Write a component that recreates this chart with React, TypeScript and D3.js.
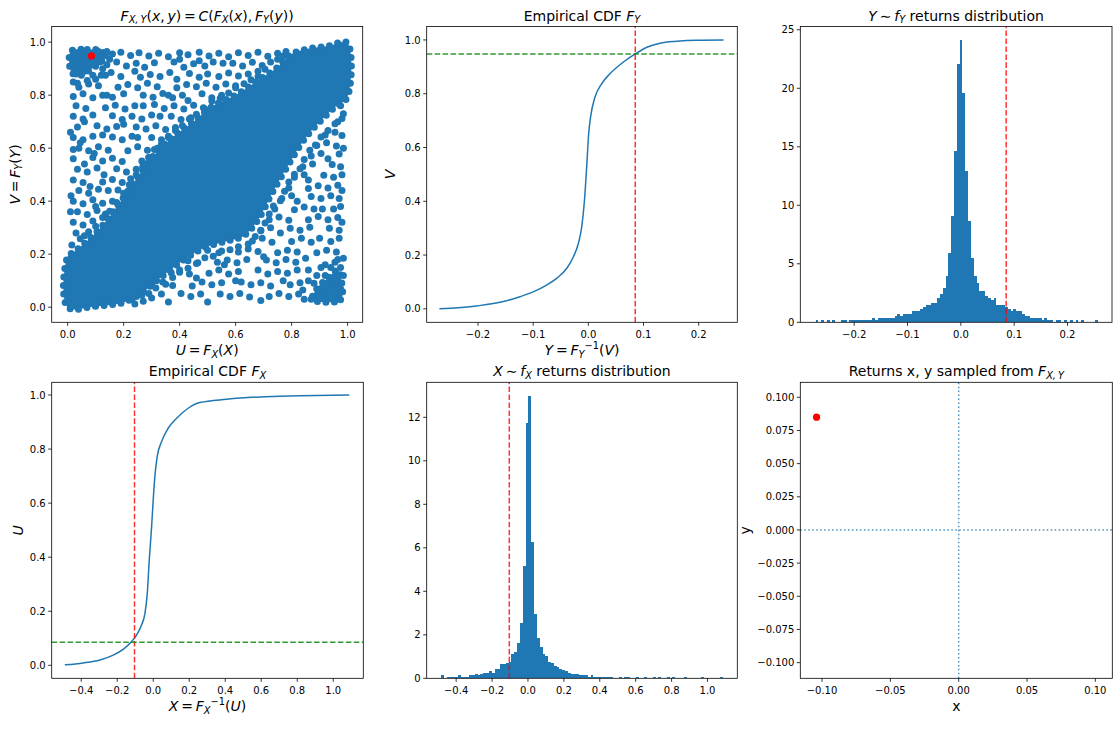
import * as d3 from "d3";
import type { ReactNode } from "react";

const FONT = "DejaVu Sans";
const BLUE = "#1f77b4";
const TS = "\u2009"; // thin space used by math text

// picked sample (red marker / dashed guides)
const PICK_U = 0.085;
const PICK_V = 0.948;
const PICK_X = -0.104;
const PICK_Y = 0.085;

// ---- empirical CDF of Y
const Y_CDF_Y = [-0.27, -0.202, -0.154, -0.124, -0.1, -0.075, -0.057, -0.039, -0.027, -0.018, -0.012, -0.007, -0.003, 0.0006, 0.004, 0.012, 0.024, 0.039, 0.063, 0.085, 0.106, 0.13, 0.16, 0.196, 0.245];
const Y_CDF_V = [0.0, 0.011, 0.027, 0.045, 0.063, 0.089, 0.114, 0.151, 0.194, 0.244, 0.305, 0.404, 0.528, 0.651, 0.713, 0.787, 0.837, 0.874, 0.917, 0.948, 0.973, 0.988, 0.995, 0.999, 1.0];

// ---- empirical CDF of X
const X_CDF_X = [-0.491, -0.389, -0.296, -0.222, -0.167, -0.12, -0.093, -0.065, -0.046, -0.033, -0.022, -0.009, 0.0, 0.009, 0.022, 0.046, 0.083, 0.13, 0.194, 0.259, 0.407, 0.593, 0.815, 1.089];
const X_CDF_U = [0.002, 0.009, 0.02, 0.038, 0.059, 0.088, 0.112, 0.149, 0.192, 0.266, 0.39, 0.513, 0.612, 0.698, 0.772, 0.827, 0.877, 0.914, 0.951, 0.972, 0.984, 0.993, 0.997, 1.0];

// ---- histogram of Y (density, 100 bins)
const Y_HIST_RANGE: [number, number] = [-0.2725, 0.2575];
const Y_HIST = [
  0.19, 0, 0.19, 0, 0.19, 0, 0.19, 0, 0, 0.19,
  0.19, 0, 0.19, 0.19, 0.19, 0.19, 0.19, 0.19, 0.19, 0.19,
  0.38, 0.19, 0.38, 0.38, 0.38, 0.38, 0.38, 0.38, 0.56, 0.75,
  0.56, 0.75, 0.75, 0.75, 0.94, 0.94, 0.94, 1.13, 1.31, 1.5,
  1.5, 1.69, 1.69, 2.07, 2.45, 2.96, 3.95, 5.9, 9.05, 14.6,
  22.1, 24.1, 19.6, 12.9, 8.66, 5.5, 3.95, 3.4, 2.7, 2.65,
  2.25, 2.07, 1.88, 2.07, 1.5, 1.5, 1.5, 1.31, 1.13, 0.94,
  1.13, 0.94, 0.94, 0.75, 0.56, 0.56, 0.38, 0.38, 0.38, 0.38,
  0.19, 0.38, 0.19, 0.19, 0, 0.19, 0.19, 0, 0.19, 0,
  0.19, 0, 0.19, 0, 0.19, 0, 0, 0, 0, 0.19,
];

// ---- histogram of X (density, 100 bins)
const X_HIST_RANGE: [number, number] = [-0.485, 1.088];
const X_HIST = [
  0.13, 0, 0.06, 0.06, 0.06, 0.06, 0.13, 0.06, 0.06, 0.06,
  0.13, 0.13, 0.19, 0.13, 0.19, 0.25, 0.25, 0.32, 0.25, 0.44,
  0.44, 0.64, 0.64, 0.7, 0.76, 1.12, 1.23, 1.62, 2.56, 5.16,
  11.75, 12.98, 6.28, 2.96, 1.87, 1.46, 1.12, 1.04, 0.76, 0.7,
  0.57, 0.51, 0.44, 0.38, 0.32, 0.25, 0.19, 0.19, 0.19, 0.13,
  0.13, 0.13, 0.06, 0.13, 0.06, 0.06, 0.06, 0.06, 0.06, 0.06,
  0.06, 0, 0, 0.06, 0, 0.06, 0.06, 0, 0, 0.06,
  0, 0, 0.06, 0, 0, 0.06, 0, 0.06, 0, 0,
  0.06, 0, 0.06, 0, 0, 0, 0.06, 0, 0, 0,
  0, 0, 0.06, 0, 0, 0, 0, 0, 0, 0.06,
];

// ---- copula sample (U, V): solid areas as outlines, sparse areas as dots
const DENSE_BAND: [number, number][] = [
  [0.0, 0.0], [0.1, 0.004], [0.2, 0.018], [0.26, 0.05], [0.33, 0.11], [0.41, 0.175], [0.49, 0.225],
  [0.57, 0.25], [0.63, 0.27], [0.68, 0.33], [0.73, 0.43], [0.79, 0.54], [0.85, 0.64], [0.91, 0.71],
  [0.96, 0.76], [0.998, 0.79], [0.998, 0.998], [0.93, 0.985], [0.86, 0.975], [0.8, 0.955], [0.75, 0.905],
  [0.68, 0.855], [0.6, 0.8], [0.52, 0.76], [0.45, 0.7], [0.38, 0.645], [0.31, 0.575], [0.25, 0.49],
  [0.19, 0.4], [0.13, 0.315], [0.07, 0.25], [0.025, 0.21], [0.0, 0.19],
];
const TOP_LEFT_BLOB: [number, number][] = [
  [0.012, 0.965], [0.07, 0.972], [0.125, 0.965], [0.12, 0.925], [0.085, 0.9], [0.05, 0.875], [0.015, 0.885],
];
const BOTTOM_RIGHT_BLOB: [number, number][] = [
  [0.875, 0.03], [0.975, 0.028], [0.978, 0.1], [0.965, 0.14], [0.93, 0.11], [0.89, 0.07],
];
const UPPER_DOTS: [number, number][] = [
  [0.16, 0.955], [0.19, 0.962], [0.225, 0.95], [0.255, 0.96], [0.29, 0.948], [0.325, 0.958], [0.36, 0.945], [0.4, 0.96], [0.43, 0.952], [0.47, 0.962],
  [0.505, 0.948], [0.54, 0.958], [0.575, 0.945], [0.61, 0.96], [0.645, 0.95], [0.68, 0.962], [0.715, 0.947], [0.75, 0.958], [0.78, 0.965],
  [0.14, 0.915], [0.175, 0.925], [0.21, 0.91], [0.245, 0.92], [0.275, 0.905], [0.31, 0.922], [0.38, 0.925], [0.415, 0.905], [0.45, 0.918],
  [0.49, 0.91], [0.52, 0.925], [0.59, 0.92], [0.625, 0.91], [0.66, 0.924], [0.695, 0.912],
  [0.12, 0.875], [0.155, 0.885], [0.19, 0.87], [0.26, 0.868], [0.295, 0.878], [0.33, 0.87], [0.365, 0.885], [0.435, 0.882], [0.47, 0.868],
  [0.5, 0.88], [0.54, 0.87], [0.575, 0.884], [0.61, 0.872], [0.645, 0.88], [0.68, 0.87],
  [0.04, 0.83], [0.075, 0.842], [0.11, 0.835], [0.18, 0.83], [0.215, 0.84], [0.25, 0.828], [0.285, 0.845], [0.32, 0.832], [0.39, 0.828],
  [0.425, 0.84], [0.46, 0.832], [0.495, 0.845], [0.53, 0.83], [0.565, 0.842], [0.6, 0.835],
  [0.02, 0.795], [0.055, 0.805], [0.09, 0.79], [0.125, 0.8], [0.16, 0.792], [0.2, 0.805], [0.27, 0.8], [0.305, 0.792], [0.34, 0.806],
  [0.375, 0.79], [0.41, 0.8], [0.48, 0.805], [0.515, 0.79], [0.55, 0.8],
  [0.03, 0.76], [0.065, 0.75], [0.135, 0.752], [0.17, 0.762], [0.205, 0.748], [0.24, 0.76], [0.31, 0.765], [0.345, 0.75], [0.38, 0.76],
  [0.415, 0.748], [0.45, 0.762], [0.485, 0.752],
  [0.02, 0.72], [0.055, 0.71], [0.09, 0.725], [0.16, 0.722], [0.195, 0.708], [0.23, 0.72], [0.265, 0.71], [0.3, 0.725], [0.37, 0.72],
  [0.405, 0.708], [0.44, 0.715],
  [0.035, 0.68], [0.105, 0.685], [0.14, 0.672], [0.175, 0.682], [0.245, 0.68], [0.28, 0.672], [0.315, 0.685], [0.35, 0.67], [0.385, 0.678],
  [0.02, 0.64], [0.055, 0.632], [0.09, 0.645], [0.16, 0.642], [0.195, 0.632], [0.23, 0.645], [0.3, 0.64], [0.335, 0.632], [0.36, 0.645],
  [0.04, 0.6], [0.075, 0.59], [0.11, 0.605], [0.145, 0.592], [0.215, 0.59], [0.25, 0.605], [0.285, 0.592], [0.32, 0.6],
  [0.02, 0.56], [0.09, 0.565], [0.125, 0.552], [0.16, 0.562], [0.195, 0.55], [0.265, 0.552], [0.29, 0.565],
  [0.035, 0.52], [0.07, 0.51], [0.105, 0.525], [0.175, 0.522], [0.21, 0.51], [0.245, 0.52],
  [0.02, 0.48], [0.055, 0.47], [0.125, 0.472], [0.16, 0.482], [0.195, 0.47], [0.225, 0.485],
  [0.04, 0.44], [0.075, 0.43], [0.11, 0.445], [0.18, 0.442], [0.205, 0.43],
  [0.02, 0.4], [0.055, 0.39], [0.09, 0.405], [0.125, 0.392], [0.16, 0.4],
  [0.035, 0.36], [0.07, 0.35], [0.105, 0.365], [0.135, 0.352],
  [0.02, 0.32], [0.055, 0.31], [0.09, 0.325], [0.03, 0.28], [0.06, 0.27],
];
// dots hugging the upper edge of the dense band
const UPPER_EDGE_DOTS: [number, number][] = [
  [0.015, 0.235], [0.045, 0.258], [0.075, 0.285], [0.1, 0.305], [0.125, 0.338], [0.15, 0.362], [0.175, 0.395], [0.2, 0.43], [0.22, 0.462],
  [0.245, 0.5], [0.268, 0.53], [0.29, 0.565], [0.31, 0.595], [0.335, 0.615], [0.36, 0.64], [0.385, 0.667], [0.41, 0.685], [0.435, 0.71],
  [0.46, 0.728], [0.49, 0.748], [0.515, 0.778], [0.545, 0.788], [0.575, 0.808], [0.6, 0.828], [0.63, 0.843], [0.655, 0.858], [0.68, 0.89],
  [0.705, 0.898], [0.725, 0.925], [0.75, 0.935], [0.77, 0.948],
  [0.02, 0.595], [0.01, 0.66], [0.012, 0.42], [0.01, 0.36], [0.045, 0.62], [0.06, 0.54], [0.08, 0.455], [0.1, 0.38], [0.145, 0.44],
  [0.13, 0.5], [0.095, 0.58], [0.125, 0.65], [0.06, 0.7], [0.2, 0.69], [0.25, 0.64], [0.27, 0.76], [0.33, 0.72], [0.36, 0.8],
  [0.43, 0.78], [0.39, 0.86], [0.47, 0.93], [0.555, 0.92], [0.4, 0.935], [0.24, 0.89], [0.11, 0.95], [0.14, 0.8],
];
const TOP_LEFT_DOTS: [number, number][] = [
  [0.02, 0.96], [0.05, 0.965], [0.08, 0.955], [0.11, 0.965], [0.135, 0.95], [0.02, 0.92], [0.05, 0.93], [0.085, 0.915], [0.115, 0.925],
  [0.03, 0.88], [0.06, 0.89], [0.09, 0.875], [0.02, 0.85], [0.14, 0.965], [0.125, 0.9], [0.1, 0.86], [0.07, 0.855], [0.15, 0.935],
  [0.035, 0.845], [0.135, 0.875],
];
const LOWER_DOTS: [number, number][] = [
  [0.23, 0.03], [0.265, 0.045], [0.3, 0.035], [0.335, 0.05], [0.405, 0.052], [0.44, 0.04], [0.475, 0.05], [0.545, 0.05], [0.58, 0.04],
  [0.615, 0.052], [0.65, 0.038], [0.72, 0.04], [0.755, 0.052], [0.79, 0.04], [0.825, 0.05],
  [0.3, 0.085], [0.34, 0.095], [0.375, 0.082], [0.445, 0.08], [0.48, 0.095], [0.515, 0.085], [0.55, 0.092], [0.62, 0.095], [0.655, 0.085],
  [0.69, 0.092], [0.725, 0.08], [0.795, 0.085], [0.83, 0.092],
  [0.37, 0.13], [0.4, 0.14], [0.435, 0.125], [0.505, 0.128], [0.54, 0.14], [0.575, 0.125], [0.61, 0.135], [0.68, 0.14], [0.715, 0.125],
  [0.75, 0.135], [0.785, 0.128], [0.82, 0.14],
  [0.43, 0.175], [0.465, 0.168], [0.535, 0.17], [0.57, 0.178], [0.605, 0.168], [0.64, 0.18], [0.71, 0.178], [0.745, 0.168], [0.78, 0.18],
  [0.815, 0.17], [0.85, 0.185],
  [0.5, 0.215], [0.54, 0.205], [0.61, 0.208], [0.645, 0.22], [0.68, 0.21], [0.75, 0.205], [0.785, 0.215], [0.82, 0.208], [0.89, 0.205],
  [0.925, 0.215], [0.96, 0.208],
  [0.66, 0.25], [0.695, 0.26], [0.73, 0.245], [0.8, 0.248], [0.835, 0.26], [0.87, 0.245], [0.94, 0.248], [0.97, 0.26],
  [0.69, 0.29], [0.725, 0.3], [0.795, 0.298], [0.83, 0.29], [0.865, 0.302], [0.935, 0.298], [0.97, 0.29],
  [0.72, 0.33], [0.755, 0.34], [0.79, 0.328], [0.86, 0.33], [0.895, 0.342], [0.93, 0.33], [0.965, 0.338],
  [0.74, 0.37], [0.81, 0.368], [0.845, 0.378], [0.88, 0.37], [0.95, 0.37], [0.975, 0.38],
  [0.765, 0.41], [0.8, 0.42], [0.87, 0.418], [0.905, 0.41], [0.94, 0.42], [0.97, 0.41],
  [0.79, 0.45], [0.86, 0.448], [0.895, 0.458], [0.93, 0.45], [0.965, 0.46],
  [0.81, 0.49], [0.845, 0.5], [0.915, 0.498], [0.95, 0.49], [0.98, 0.5],
  [0.84, 0.53], [0.875, 0.54], [0.945, 0.538], [0.975, 0.53],
  [0.87, 0.57], [0.905, 0.58], [0.97, 0.578], [0.89, 0.61], [0.925, 0.62], [0.96, 0.608],
  [0.92, 0.65], [0.955, 0.66], [0.98, 0.648], [0.965, 0.7], [0.985, 0.73], [0.975, 0.76],
];
// dots hugging the lower edge of the dense band
const LOWER_EDGE_DOTS: [number, number][] = [
  [0.24, 0.012], [0.27, 0.022], [0.29, 0.052], [0.315, 0.072], [0.35, 0.087], [0.375, 0.112], [0.4, 0.132], [0.43, 0.147], [0.46, 0.165],
  [0.49, 0.187], [0.52, 0.192], [0.55, 0.212], [0.58, 0.217], [0.61, 0.228], [0.645, 0.238], [0.67, 0.267], [0.69, 0.288], [0.705, 0.318],
  [0.72, 0.352], [0.735, 0.382], [0.76, 0.402], [0.775, 0.437], [0.79, 0.472], [0.81, 0.502], [0.83, 0.522], [0.845, 0.557], [0.865, 0.592],
  [0.885, 0.612], [0.905, 0.642], [0.93, 0.667], [0.955, 0.692], [0.98, 0.712],
  [0.36, 0.02], [0.5, 0.02], [0.69, 0.025], [0.46, 0.11], [0.6, 0.1], [0.77, 0.1], [0.56, 0.16], [0.7, 0.19], [0.86, 0.14],
  [0.76, 0.28], [0.9, 0.26], [0.82, 0.4], [0.91, 0.37], [0.86, 0.48], [0.93, 0.56], [0.98, 0.44], [0.98, 0.32], [0.985, 0.6],
  [0.94, 0.15], [0.965, 0.18], [0.92, 0.12], [0.88, 0.09],
];
const BOTTOM_RIGHT_DOTS: [number, number][] = [
  [0.87, 0.03], [0.9, 0.045], [0.975, 0.07], [0.95, 0.1], [0.975, 0.15], [0.955, 0.17], [0.92, 0.16], [0.89, 0.12], [0.86, 0.1],
  [0.985, 0.12], [0.95, 0.03], [0.915, 0.035], [0.84, 0.065], [0.985, 0.185], [0.905, 0.15], [0.845, 0.03],
];

// ---- tick values
const UNIT_TICKS = [0, 0.2, 0.4, 0.6, 0.8, 1.0];
const Y_RET_TICKS = [-0.2, -0.1, 0, 0.1, 0.2];
const Y_DENS_TICKS = [0, 5, 10, 15, 20, 25];
const X_RET_TICKS = [-0.4, -0.2, 0, 0.2, 0.4, 0.6, 0.8, 1.0];
const X_DENS_TICKS = [0, 2, 4, 6, 8, 10, 12];
const XY_X_TICKS = [-0.1, -0.05, 0, 0.05, 0.1];
const XY_Y_TICKS = [-0.1, -0.075, -0.05, -0.025, 0, 0.025, 0.05, 0.075, 0.1];

// segment kinds: r roman, i italic, bi subscript italic, pr superscript roman
type Seg = [string, "r" | "i" | "bi" | "pr"];

const MathText = ({ x, y, size, segs, rotate = false }: { x: number; y: number; size: number; segs: Seg[]; rotate?: boolean }) => {
  let shift = 0;
  const spans = segs.map(([t, kind], k) => {
    const target = kind === "bi" ? size * 0.2 : kind === "pr" ? -size * 0.42 : 0;
    const dy = target - shift;
    shift = target;
    const small = kind === "bi" || kind === "pr";
    return (
      <tspan key={k} dy={dy} fontStyle={kind === "i" || kind === "bi" ? "italic" : "normal"} fontSize={small ? size * 0.7 : size}>
        {t}
      </tspan>
    );
  });
  return (
    <text
      x={x}
      y={y}
      fontSize={size}
      fontFamily={FONT}
      textAnchor="middle"
      dominantBaseline={rotate ? "central" : undefined}
      transform={rotate ? `rotate(-90, ${x}, ${y})` : undefined}
      style={{ whiteSpace: "pre" }}
      fill="#000"
    >
      {spans}
    </text>
  );
};

type AxesProps = {
  id: string;
  left: number; right: number; top: number; bottom: number;
  xDomain: [number, number]; yDomain: [number, number];
  xTicks: number[]; yTicks: number[];
  xFmt: (v: number) => string; yFmt: (v: number) => string;
  title: Seg[]; xLabel?: Seg[]; yLabel?: Seg[]; yLabelGap?: number;
  children: (x: d3.ScaleLinear<number, number>, y: d3.ScaleLinear<number, number>) => ReactNode;
};

const Axes = (p: AxesProps) => {
  const x = d3.scaleLinear().domain(p.xDomain).range([p.left, p.right]);
  const y = d3.scaleLinear().domain(p.yDomain).range([p.bottom, p.top]);
  const cx = (p.left + p.right) / 2;
  const cy = (p.top + p.bottom) / 2;
  return (
    <g>
      <clipPath id={p.id}>
        <rect x={p.left} y={p.top} width={p.right - p.left} height={p.bottom - p.top} />
      </clipPath>
      <g clipPath={`url(#${p.id})`}>{p.children(x, y)}</g>
      <rect x={p.left} y={p.top} width={p.right - p.left} height={p.bottom - p.top} fill="none" stroke="#000" strokeWidth={0.8} />
      {p.xTicks.map((t) => (
        <g key={"x" + t}>
          <line x1={x(t)} x2={x(t)} y1={p.bottom} y2={p.bottom + 3.5} stroke="#000" strokeWidth={0.8} />
          <text x={x(t)} y={p.bottom + 15.5} fontSize={10} fontFamily={FONT} textAnchor="middle">{p.xFmt(t)}</text>
        </g>
      ))}
      {p.yTicks.map((t) => (
        <g key={"y" + t}>
          <line x1={p.left - 3.5} x2={p.left} y1={y(t)} y2={y(t)} stroke="#000" strokeWidth={0.8} />
          <text x={p.left - 6} y={y(t) + 3.6} fontSize={10} fontFamily={FONT} textAnchor="end">{p.yFmt(t)}</text>
        </g>
      ))}
      <MathText x={cx} y={p.top - 6} size={14} segs={p.title} />
      {p.xLabel && <MathText x={cx} y={p.bottom + 33} size={14} segs={p.xLabel} />}
      {p.yLabel && <MathText x={p.left - (p.yLabelGap ?? 36)} y={cy} size={14} segs={p.yLabel} rotate />}
    </g>
  );
};

const f1 = d3.format(".1f");
const f2 = d3.format(".2f");
const f3 = d3.format(".3f");
const f0 = d3.format("d");

const COLS = [{ l: 51.7, r: 362.7 }, { l: 426.7, r: 737.3 }, { l: 800.3, r: 1112 }];
const ROWS = [{ t: 26.5, b: 322.3 }, { t: 382.3, b: 678.3 }];

const Hist = ({ x, y, range, values }: { x: any; y: any; range: [number, number]; values: number[] }) => {
  const step = (range[1] - range[0]) / values.length;
  return (
    <g shapeRendering="crispEdges">
      {values.map((v, i) => {
        if (!v) return null;
        const x0 = range[0] + i * step;
        return <rect key={i} x={x(x0)} width={x(x0 + step) - x(x0)} y={y(v)} height={y(0) - y(v)} fill={BLUE} />;
      })}
    </g>
  );
};

const VLine = ({ x, y, v, color, dash }: any) => (
  <line x1={x(v)} x2={x(v)} y1={y.range()[0]} y2={y.range()[1]} stroke={color} strokeOpacity={0.8} strokeWidth={1.5} strokeDasharray={dash} />
);
const HLine = ({ x, y, v, color, dash }: any) => (
  <line x1={x.range()[0]} x2={x.range()[1]} y1={y(v)} y2={y(v)} stroke={color} strokeOpacity={0.8} strokeWidth={1.5} strokeDasharray={dash} />
);

const DASH = "5.55,2.4";
const DOT = "1.5,2.475";
const DOT_R = 3.5;

export default function App() {
  const dots = [...UPPER_DOTS, ...UPPER_EDGE_DOTS, ...TOP_LEFT_DOTS, ...LOWER_DOTS, ...LOWER_EDGE_DOTS, ...BOTTOM_RIGHT_DOTS];
  const eq = `${TS}=${TS}`;
  return (
    <svg width={1118} height={729} style={{ position: "absolute", left: 0, top: 0, background: "#fff" }}>
      {/* copula scatter */}
      <Axes
        id="c0" left={COLS[0].l} right={COLS[0].r} top={ROWS[0].t} bottom={ROWS[0].b}
        xDomain={[-0.057, 1.054]} yDomain={[-0.057, 1.059]}
        xTicks={UNIT_TICKS} yTicks={UNIT_TICKS} xFmt={f1} yFmt={f1}
        title={[["F", "i"], [`X,${TS}Y`, "bi"], ["(", "r"], ["x", "i"], [`,${TS}`, "r"], ["y", "i"], [`)${eq}`, "r"], ["C", "i"], ["(", "r"], ["F", "i"], ["X", "bi"], ["(", "r"], ["x", "i"], [`),${TS}`, "r"], ["F", "i"], ["Y", "bi"], ["(", "r"], ["y", "i"], ["))", "r"]]}
        xLabel={[["U", "i"], [eq, "r"], ["F", "i"], ["X", "bi"], ["(", "r"], ["X", "i"], [")", "r"]]}
        yLabel={[["V", "i"], [eq, "r"], ["F", "i"], ["Y", "bi"], ["(", "r"], ["Y", "i"], [")", "r"]]}
        yLabelGap={36.7}
      >
        {(x, y) => {
          const line = d3.line<[number, number]>().x((d) => x(d[0])).y((d) => y(d[1])).curve(d3.curveCatmullRomClosed.alpha(0.5));
          return (
            <g>
              {[DENSE_BAND, TOP_LEFT_BLOB, BOTTOM_RIGHT_BLOB].map((poly, i) => (
                <path
                  key={i}
                  d={line(poly) ?? ""}
                  fill={BLUE}
                  stroke={BLUE}
                  strokeWidth={DOT_R * 2}
                  strokeLinecap="round"
                  strokeDasharray="0 8.5"
                />
              ))}
              {dots.map((d, i) => (
                <circle key={i} cx={x(d[0])} cy={y(d[1])} r={DOT_R} fill={BLUE} />
              ))}
              <circle cx={x(PICK_U)} cy={y(PICK_V)} r={3.6} fill="#ff0000" />
            </g>
          );
        }}
      </Axes>

      {/* empirical CDF of Y */}
      <Axes
        id="c1" left={COLS[1].l} right={COLS[1].r} top={ROWS[0].t} bottom={ROWS[0].b}
        xDomain={[-0.293, 0.27]} yDomain={[-0.05, 1.05]}
        xTicks={Y_RET_TICKS} yTicks={UNIT_TICKS} xFmt={f1} yFmt={f1}
        title={[["Empirical CDF ", "r"], ["F", "i"], ["Y", "bi"]]}
        xLabel={[["Y", "i"], [eq, "r"], ["F", "i"], ["Y", "bi"], ["−1", "pr"], ["(", "r"], ["V", "i"], [")", "r"]]}
        yLabel={[["V", "i"]]}
        yLabelGap={36.7}
      >
        {(x, y) => {
          const line = d3.line<number>().x((d, i) => x(Y_CDF_Y[i])).y((d) => y(d)).curve(d3.curveMonotoneX);
          return (
            <g>
              <path d={line(Y_CDF_V) ?? ""} fill="none" stroke={BLUE} strokeWidth={1.5} />
              <VLine x={x} y={y} v={PICK_Y} color="#ff0000" dash={DASH} />
              <HLine x={x} y={y} v={PICK_V} color="#008000" dash={DASH} />
            </g>
          );
        }}
      </Axes>

      {/* density of Y */}
      <Axes
        id="c2" left={COLS[2].l} right={COLS[2].r} top={ROWS[0].t} bottom={ROWS[0].b}
        xDomain={[-0.301, 0.2834]} yDomain={[0, 25.28]}
        xTicks={Y_RET_TICKS} yTicks={Y_DENS_TICKS} xFmt={f1} yFmt={f0}
        title={[["Y", "i"], [`${TS}∼${TS}`, "r"], ["f", "i"], ["Y", "bi"], [" returns distribution", "r"]]}
      >
        {(x, y) => (
          <g>
            <Hist x={x} y={y} range={Y_HIST_RANGE} values={Y_HIST} />
            <VLine x={x} y={y} v={PICK_Y} color="#ff0000" dash={DASH} />
          </g>
        )}
      </Axes>

      {/* empirical CDF of X */}
      <Axes
        id="c3" left={COLS[0].l} right={COLS[0].r + 0.6} top={ROWS[1].t} bottom={ROWS[1].b}
        xDomain={[-0.564, 1.167]} yDomain={[-0.048, 1.047]}
        xTicks={X_RET_TICKS} yTicks={UNIT_TICKS} xFmt={f1} yFmt={f1}
        title={[["Empirical CDF ", "r"], ["F", "i"], ["X", "bi"]]}
        xLabel={[["X", "i"], [eq, "r"], ["F", "i"], ["X", "bi"], ["−1", "pr"], ["(", "r"], ["U", "i"], [")", "r"]]}
        yLabel={[["U", "i"]]}
        yLabelGap={33.4}
      >
        {(x, y) => {
          const line = d3.line<number>().x((d, i) => x(X_CDF_X[i])).y((d) => y(d)).curve(d3.curveMonotoneX);
          return (
            <g>
              <path d={line(X_CDF_U) ?? ""} fill="none" stroke={BLUE} strokeWidth={1.5} />
              <VLine x={x} y={y} v={PICK_X} color="#ff0000" dash={DASH} />
              <HLine x={x} y={y} v={PICK_U} color="#008000" dash={DASH} />
            </g>
          );
        }}
      </Axes>

      {/* density of X */}
      <Axes
        id="c4" left={COLS[1].l} right={COLS[1].r} top={ROWS[1].t} bottom={ROWS[1].b}
        xDomain={[-0.564, 1.166]} yDomain={[0, 13.61]}
        xTicks={X_RET_TICKS} yTicks={X_DENS_TICKS} xFmt={f1} yFmt={f0}
        title={[["X", "i"], [`${TS}∼${TS}`, "r"], ["f", "i"], ["X", "bi"], [" returns distribution", "r"]]}
      >
        {(x, y) => (
          <g>
            <Hist x={x} y={y} range={X_HIST_RANGE} values={X_HIST} />
            <VLine x={x} y={y} v={PICK_X} color="#ff0000" dash={DASH} />
          </g>
        )}
      </Axes>

      {/* sampled returns */}
      <Axes
        id="c5" left={COLS[2].l} right={COLS[2].r + 0.3} top={ROWS[1].t} bottom={ROWS[1].b}
        xDomain={[-0.1159, 0.1124]} yDomain={[-0.1118, 0.1113]}
        xTicks={XY_X_TICKS} yTicks={XY_Y_TICKS} xFmt={f2} yFmt={f3}
        title={[["Returns x, y sampled from ", "r"], ["F", "i"], [`X,${TS}Y`, "bi"]]}
        xLabel={[["x", "r"]]}
        yLabel={[["y", "r"]]}
        yLabelGap={55}
      >
        {(x, y) => (
          <g>
            <HLine x={x} y={y} v={0} color={BLUE} dash={DOT} />
            <VLine x={x} y={y} v={0} color={BLUE} dash={DOT} />
            <circle cx={x(PICK_X)} cy={y(PICK_Y)} r={3.6} fill="#ff0000" />
          </g>
        )}
      </Axes>
    </svg>
  );
}
